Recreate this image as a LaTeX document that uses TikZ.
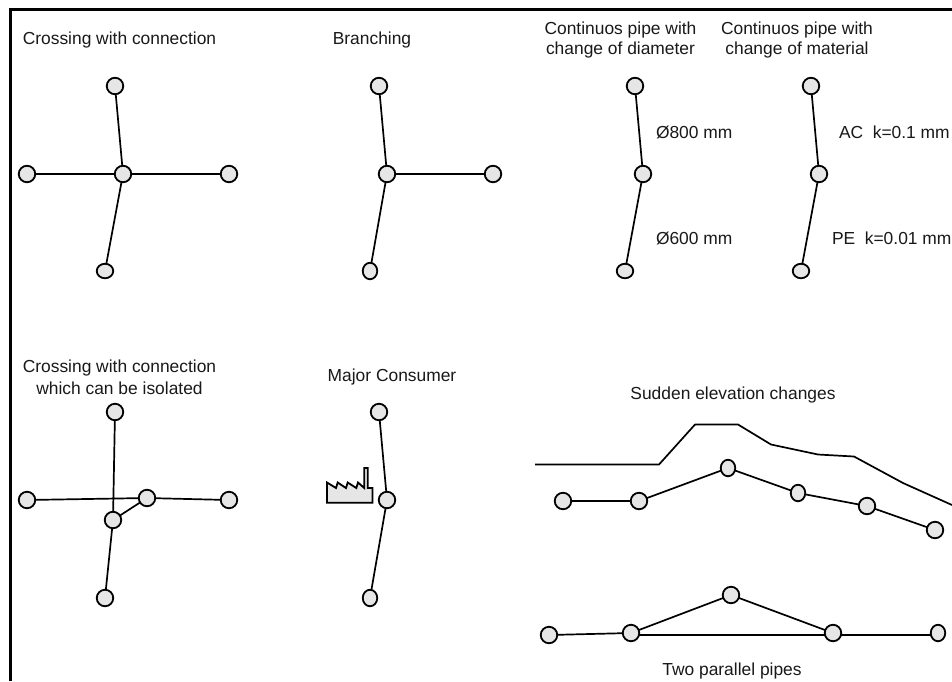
\documentclass[tikz,border=0pt]{standalone}
\usepackage{fontspec}
\setmainfont{Liberation Sans}
\usetikzlibrary{shapes.geometric}
\definecolor{nodefill}{HTML}{E6E6E6}
\tikzset{
  pipe/.style={draw=black,line width=1.7pt},
  jn/.style={ellipse,draw=black,fill=nodefill,line width=1.8pt,minimum width=16.5pt,minimum height=16.5pt,inner sep=0pt,outer sep=0pt},
  jnb/.style={jn,minimum height=14.5pt},
  jnn/.style={jn,minimum width=14.5pt},
  lab/.style={font=\fontsize{17.4}{20.5}\selectfont,inner sep=0pt,outer sep=0pt,align=center,text=black!90},
  frame/.style={draw=black,line width=3pt}
}
\begin{document}
\begin{tikzpicture}[x=1pt,y=-1pt]
\useasboundingbox (0,0) rectangle (952,681);
\fill[white] (0,0) rectangle (952,681);
\coordinate (fbl) at (10.5,681);
\coordinate (ftl) at (10.5,9.5);
\coordinate (ftr) at (952,9.5);
\draw[frame] (fbl) -- (ftl) -- (ftr);
% labels
\node[lab,anchor=center] (t1) at (119.5,39.5) {Crossing with connection};
\node[lab,anchor=center] (t2) at (372,39.5) {Branching};
\node[lab,anchor=center] (t3) at (620.5,40) {Continuos pipe with\\change of diameter};
\node[lab,anchor=center] (t4) at (797,40) {Continuos pipe with\\change of material};
\node[lab,anchor=west] (t5) at (656,132) {Ø800 mm};
\node[lab,anchor=west] (t6) at (656,238) {Ø600 mm};
\node[lab,anchor=west] (t7) at (839,132) {AC\ \ k=0.1 mm};
\node[lab,anchor=west] (t8) at (832,238) {PE\ \ k=0.01 mm};
\node[lab,anchor=center,font=\fontsize{17.4}{22}\selectfont] (t9) at (119.5,377) {Crossing with connection\\which can be isolated};
\node[lab,anchor=center] (t10) at (392,377) {Major Consumer};
\node[lab,anchor=center] (t11) at (733,395) {Sudden elevation changes};
\node[lab,anchor=center] (t12) at (732,671) {Two parallel pipes};
% crossing with connection
\coordinate (A1) at (115,86); \coordinate (A2) at (123,174); \coordinate (A3) at (27,174); \coordinate (A4) at (229,174); \coordinate (A5) at (105,271);
\node[jn] (a1) at (A1) {}; \node[jn] (a2) at (A2) {}; \node[jn] (a3) at (A3) {}; \node[jn] (a4) at (A4) {}; \node[jnb] (a5) at (A5) {};
\draw[pipe] (a1)--(a2) (a2)--(a5) (a3)--(a2) (a2)--(a4);
% branching
\coordinate (B1) at (379,86); \coordinate (B2) at (387,174); \coordinate (B3) at (493,174); \coordinate (B4) at (370,271);
\node[jn] (b1) at (B1) {}; \node[jn] (b2) at (B2) {}; \node[jn] (b3) at (B3) {}; \node[jnn] (b4) at (B4) {};
\draw[pipe] (b1)--(b2) (b2)--(b4) (b2)--(b3);
% diameter
\coordinate (C1) at (635,86); \coordinate (C2) at (643,174); \coordinate (C3) at (625,271);
\node[jn] (c1) at (C1) {}; \node[jn] (c2) at (C2) {}; \node[jnb] (c3) at (C3) {};
\draw[pipe] (c1)--(c2) (c2)--(c3);
% material
\coordinate (D1) at (811,86); \coordinate (D2) at (819,174); \coordinate (D3) at (801,271);
\node[jn] (d1) at (D1) {}; \node[jn] (d2) at (D2) {}; \node[jnb] (d3) at (D3) {};
\draw[pipe] (d1)--(d2) (d2)--(d3);
% isolated crossing
\coordinate (E1) at (115,412); \coordinate (E2) at (113,520); \coordinate (E3) at (27,500); \coordinate (E4) at (147,498); \coordinate (E5) at (229,500); \coordinate (E6) at (105,598);
\node[jn] (e1) at (E1) {}; \node[jn] (e2) at (E2) {}; \node[jn] (e3) at (E3) {}; \node[jn] (e4) at (E4) {}; \node[jn] (e5) at (E5) {}; \node[jn] (e6) at (E6) {};
\draw[pipe] (e1)--(e2) (e2)--(e6) (e3)--(e4) (e4)--(e5) (e2)--(e4);
% major consumer
\coordinate (F1) at (379,412); \coordinate (F2) at (387,500); \coordinate (F3) at (370,598);
\node[jn] (f1) at (F1) {}; \node[jn] (f2) at (F2) {}; \node[jnn] (f3) at (F3) {};
\draw[pipe] (f1)--(f2) (f2)--(f3);
% factory
\draw[line width=1.8pt,fill=nodefill,line join=miter] (327,502.7) -- (327,482.5) -- (336,488) -- (337.7,482.5) -- (346,488) -- (347.7,482.5) -- (356.3,488) -- (358,482.5) -- (364.3,488) -- (364.3,468) -- (367.7,468) -- (367.7,488) -- (372.5,488) -- (372.5,502.7) -- cycle;
% ground profile
\coordinate (G1) at (535,464.5); \coordinate (G2) at (659,464.5); \coordinate (G3) at (695,424.5); \coordinate (G4) at (738,424.5); \coordinate (G5) at (771,444.5); \coordinate (G6) at (818,454.5); \coordinate (G7) at (854,456.5); \coordinate (G8) at (903,483); \coordinate (G9) at (952,505);
\draw[pipe,line join=round] (G1)--(G2)--(G3)--(G4)--(G5)--(G6)--(G7)--(G8)--(G9);
% elevation pipe
\coordinate (H1) at (563,501); \coordinate (H2) at (639,501); \coordinate (H3) at (728,468); \coordinate (H4) at (798,493); \coordinate (H5) at (867,506); \coordinate (H6) at (935,530);
\node[jn] (h1) at (H1) {}; \node[jn] (h2) at (H2) {}; \node[jnn] (h3) at (H3) {}; \node[jnn] (h4) at (H4) {}; \node[jn] (h5) at (H5) {}; \node[jn] (h6) at (H6) {};
\draw[pipe] (h1)--(h2) (h2)--(h3) (h3)--(h4) (h4)--(h5) (h5)--(h6);
% parallel pipes
\coordinate (P1) at (549,635); \coordinate (P2) at (631,633); \coordinate (P3) at (731,595); \coordinate (P4) at (833,633); \coordinate (P5) at (938,633);
\node[jn] (p1) at (P1) {}; \node[jn] (p2) at (P2) {}; \node[jn] (p3) at (P3) {}; \node[jn] (p4) at (P4) {}; \node[jnn] (p5) at (P5) {};
\draw[pipe] (p1)--(p2) (p2)--(p3) (p3)--(p4);
\draw[pipe] (p4.east |- 0,634.7) -- (p5.west |- 0,634.7);
\draw[pipe] (p2.east |- 0,634.7) -- (p4.west |- 0,634.7);
\end{tikzpicture}
\end{document}
